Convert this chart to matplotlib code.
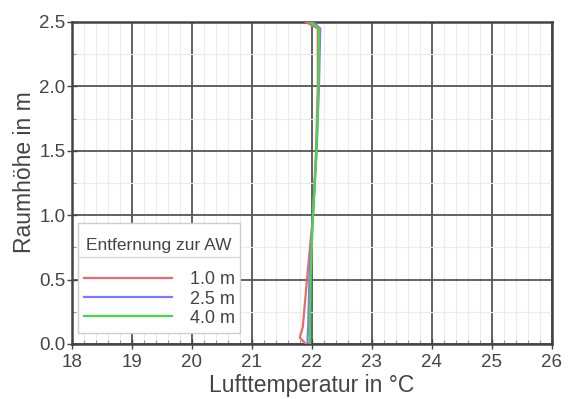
#!/usr/bin/env python3

import matplotlib
matplotlib.use("Agg")
import matplotlib.pyplot as plt
from matplotlib.ticker import MultipleLocator
from matplotlib.offsetbox import DrawingArea
#----

# Raumhoehe (m) und Lufttemperatur (degC) je Entfernung zur Aussenwand
heights = [0.0, 0.05, 0.13, 0.5, 1.0, 1.5, 2.0, 2.45, 2.5]
temp_10 = [21.9, 21.8, 21.85, 21.92, 22.02, 22.07, 22.1, 22.1, 21.9]
temp_25 = [21.93, 21.93, 21.94, 21.96, 22.02, 22.08, 22.12, 22.14, 22.02]
temp_40 = [21.97, 21.97, 21.97, 21.98, 22.02, 22.08, 22.11, 22.12, 21.97]
labels = ["1.0 m", "2.5 m", "4.0 m"]
colors = ["#e86a6a", "#7a7aff", "#4ad64a"]

plt.rcParams['font.family'] = ['Liberation Sans', 'DejaVu Sans']

fig = plt.figure(figsize=(5.7, 3.99), dpi=100)
ax = fig.add_axes([0.126, 0.138, 0.842, 0.807])

for temps, lab, col in zip([temp_10, temp_25, temp_40], labels, colors):
  ax.plot(temps, heights, color=col, lw=1.6, label=lab, zorder=3)

ax.set_xlim(18, 26)
ax.set_ylim(0, 2.5)
ax.xaxis.set_major_locator(MultipleLocator(1))
ax.xaxis.set_minor_locator(MultipleLocator(0.2))
ax.yaxis.set_major_locator(MultipleLocator(0.5))
ax.yaxis.set_minor_locator(MultipleLocator(0.25))
ax.yaxis.set_major_formatter(plt.FormatStrFormatter('%.1f'))

ax.grid(which='major', color='#555555', lw=1.3, zorder=1)
ax.grid(which='minor', color='#ebebeb', lw=0.8, zorder=0)
for s in ax.spines.values():
  s.set_color('#444444')
  s.set_linewidth(1.8)
ax.tick_params(which='major', direction='inout', length=7, width=1.0,
               color='#444444', labelcolor='#444444', labelsize=13.5)
ax.tick_params(axis='x', which='major', pad=4)
ax.tick_params(axis='y', which='major', pad=1)
ax.tick_params(which='minor', direction='in', length=3, width=0.8, color='#999999')

ax.set_xlabel('Lufttemperatur in °C', fontsize=16.5, color='#444444', labelpad=2)
ax.set_ylabel('Raumhöhe in m', fontsize=16.5, color='#444444')
ax.yaxis.set_label_coords(-0.075, 0.534)

leg = ax.legend(title='Entfernung zur AW', loc='lower left',
                bbox_to_anchor=(0.012, 0.034, 0.338, 0.345), mode='expand',
                fontsize=13, title_fontsize=12.5, handlelength=4.9,
                borderaxespad=0, fancybox=False, edgecolor='#cccccc',
                framealpha=1, labelspacing=0.12, borderpad=0.35,
                handletextpad=0.95, markerfirst=True)
# extra room above the title, same gap between title and entries
leg._legend_box.sep = 6.5
leg._legend_box._children.insert(1, DrawingArea(1, 0))
leg._legend_box._children.insert(0, DrawingArea(1, 0))
leg.get_frame().set_linewidth(1.0)
for t in leg.get_texts():
  t.set_color('#444444')
leg.get_title().set_color('#444444')
leg.set_zorder(5)
# separator below the legend title
ax.plot([0.012, 0.35], [0.27, 0.27], transform=ax.transAxes,
        color='#d8d8d8', lw=1.0, zorder=6, clip_on=False)

fig.savefig("out.png", dpi=100)
